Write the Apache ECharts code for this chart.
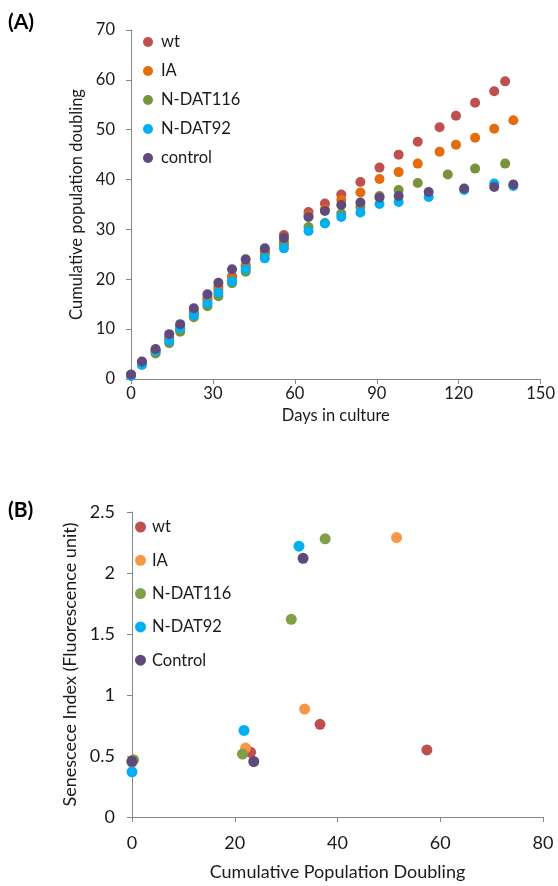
<!DOCTYPE html>
<html>
<head>
<meta charset="utf-8">
<script src="https://cdn.jsdelivr.net/npm/echarts@6/dist/echarts.min.js"></script>
<style>
  html, body { margin: 0; padding: 0; background: #fff; }
  #chartA, #chartB { width: 558px; height: 443px; }
</style>
</head>
<body>
<div id="chartA"></div>
<div id="chartB"></div>
<script>
// ---- (A) cumulative population doubling vs days in culture
var wtDays = [0, 4, 9, 14, 18, 23, 28, 32, 37, 42, 49, 56, 65, 71, 77, 84, 91, 98, 105, 113, 119, 126, 133, 137];
var wtPD = [0.8, 3.3, 5.8, 8.3, 10.5, 13.5, 16.2, 18.5, 20.6, 22.8, 25.5, 28.9, 33.5, 35.2, 37.0, 39.5, 42.4, 45.0, 47.6, 50.5, 52.8, 55.4, 57.7, 59.7];
var iaDays = [0, 4, 9, 14, 18, 23, 28, 32, 37, 42, 49, 56, 65, 71, 77, 84, 91, 98, 105, 113, 119, 126, 133, 140];
var iaPD = [0.8, 3.2, 5.5, 8.0, 10.0, 13.2, 15.8, 18.0, 20.3, 22.5, 25.5, 27.5, 32.8, 34.0, 35.9, 37.4, 40.1, 41.5, 43.2, 45.6, 47.0, 48.4, 50.2, 51.9];
var n116Days = [0, 4, 9, 14, 18, 23, 28, 32, 37, 42, 49, 56, 65, 71, 77, 84, 91, 98, 105, 116, 126, 137];
var n116PD = [0.7, 3.0, 5.1, 7.2, 9.5, 12.4, 14.6, 16.6, 19.2, 21.5, 25.0, 27.0, 30.5, 31.3, 33.2, 34.5, 36.7, 37.9, 39.3, 41.0, 42.2, 43.2];
var n92Days = [0, 4, 9, 14, 18, 23, 28, 32, 37, 42, 49, 56, 65, 71, 77, 84, 91, 98, 109, 122, 133, 140];
var n92PD = [0.6, 2.8, 5.6, 7.7, 10.2, 12.8, 15.2, 17.3, 19.6, 22.0, 24.2, 26.2, 29.7, 31.2, 32.5, 33.4, 35.1, 35.5, 36.5, 37.9, 39.2, 38.7];
var ctrlDays = [0, 4, 9, 14, 18, 23, 28, 32, 37, 42, 49, 56, 65, 71, 77, 84, 91, 98, 109, 122, 133, 140];
var ctrlPD = [0.9, 3.5, 6.0, 9.0, 11.0, 14.2, 17.0, 19.3, 22.0, 24.0, 26.2, 28.3, 32.5, 33.7, 34.9, 35.4, 36.4, 36.7, 37.5, 38.2, 38.5, 39.0];

// ---- (B) senescence index vs cumulative population doubling
var wtCPD = [0, 23.1, 36.6, 57.4];
var wtSI = [0.45, 0.53, 0.76, 0.55];
var iaCPD = [0, 22.1, 33.6, 51.5];
var iaSI = [0.45, 0.565, 0.885, 2.29];
var n116CPD = [0.3, 21.5, 31.0, 37.6];
var n116SI = [0.47, 0.516, 1.62, 2.28];
var n92CPD = [0, 21.8, 32.5];
var n92SI = [0.37, 0.71, 2.22];
var ctrlCPD = [0, 23.7, 33.3];
var ctrlSI = [0.457, 0.455, 2.12];

var FONT = "Lato";
var FS = 16.5;   // panel A text, legends
var FS_B = 18;   // panel B axis text is a touch larger
var AXIS_GREY = "#868686";

function pairs(xs, ys) {
  return xs.map(function (x, i) { return [x, ys[i]]; });
}

function axisBase(fs) {
  return {
    axisLine: { show: true, lineStyle: { color: AXIS_GREY, width: 1 } },
    axisTick: { show: true, length: 5, lineStyle: { color: AXIS_GREY } },
    splitLine: { show: false },
    axisLabel: { color: "#1a1a1a", fontFamily: FONT, fontSize: fs },
    nameTextStyle: { color: "#1a1a1a", fontFamily: FONT, fontSize: fs },
  };
}

function scatter(name, data, color, size) {
  return {
    name: name,
    type: "scatter",
    data: data,
    symbolSize: size,
    itemStyle: { color: color, opacity: 1 },
    emphasis: { disabled: true },
  };
}

// chart A
var chartA = echarts.init(document.getElementById("chartA"));
var xA = axisBase(FS);
Object.assign(xA, {
  type: "value", min: 0, max: 150, interval: 30,
  name: "Days in culture", nameLocation: "middle", nameGap: 18,
});
xA.axisLabel.margin = 6;
var yA = axisBase(FS);
Object.assign(yA, {
  type: "value", min: 0, max: 70, interval: 10,
  name: "Cumulative population doubling", nameLocation: "middle", nameGap: 40,
});
yA.axisLabel.margin = 16;

chartA.setOption({
  animation: false,
  title: {
    text: "(A)", left: 3, top: 7,
    textStyle: { fontFamily: FONT, fontSize: 21, fontWeight: "bold", color: "#000" },
  },
  legend: {
    orient: "vertical", left: 138, top: 28,
    itemWidth: 10, itemHeight: 10, itemGap: 11, icon: "circle",
    textStyle: { fontFamily: FONT, fontSize: FS, color: "#1a1a1a", lineHeight: 18, padding: [0, 0, 0, 3] },
    data: ["wt", "IA", "N-DAT116", "N-DAT92", "control"],
  },
  grid: { left: 131, top: 30, width: 410, height: 349 },
  xAxis: xA,
  yAxis: yA,
  series: [
    scatter("wt", pairs(wtDays, wtPD), "#C0504D", 10),
    scatter("IA", pairs(iaDays, iaPD), "#E46C0A", 10),
    scatter("N-DAT116", pairs(n116Days, n116PD), "#77933C", 10),
    scatter("N-DAT92", pairs(n92Days, n92PD), "#00B0F0", 10),
    scatter("control", pairs(ctrlDays, ctrlPD), "#604A7B", 10),
  ],
});

// chart B
var chartB = echarts.init(document.getElementById("chartB"));
var xB = axisBase(FS_B);
Object.assign(xB, {
  type: "value", min: 0, max: 80, interval: 20,
  name: "Cumulative Population Doubling", nameLocation: "middle", nameGap: 46,
});
xB.axisLabel.margin = 17;
var yB = axisBase(FS_B);
Object.assign(yB, {
  type: "value", min: 0, max: 2.5, interval: 0.5,
  name: "Senescece Index (Fluorescence unit)", nameLocation: "middle", nameGap: 48,
});
yB.axisLabel.margin = 17;

chartB.setOption({
  animation: false,
  title: {
    text: "(B)", left: 3, top: 52,
    textStyle: { fontFamily: FONT, fontSize: 21, fontWeight: "bold", color: "#000" },
  },
  legend: {
    orient: "vertical", left: 130, top: 70,
    itemWidth: 11, itemHeight: 11, itemGap: 15.3, icon: "circle",
    textStyle: { fontFamily: FONT, fontSize: FS, color: "#1a1a1a", lineHeight: 18, padding: [0, 0, 0, 1] },
    data: ["wt", "IA", "N-DAT116", "N-DAT92", "Control"],
  },
  grid: { left: 132, top: 69, width: 411, height: 310 },
  xAxis: xB,
  yAxis: yB,
  series: [
    scatter("wt", pairs(wtCPD, wtSI), "#C0504D", 11),
    scatter("IA", pairs(iaCPD, iaSI), "#F79646", 11),
    scatter("N-DAT116", pairs(n116CPD, n116SI), "#7FA045", 11),
    scatter("N-DAT92", pairs(n92CPD, n92SI), "#00B0F0", 11),
    scatter("Control", pairs(ctrlCPD, ctrlSI), "#5F497A", 11),
  ],
});
</script>
</body>
</html>
